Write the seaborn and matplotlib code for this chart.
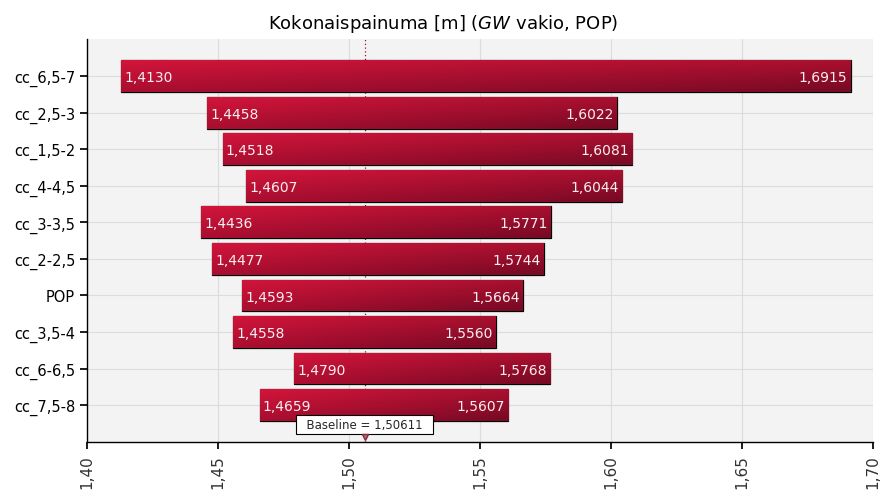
import numpy as np
import pandas as pd
import seaborn as sns
import matplotlib.pyplot as plt
from matplotlib.colors import to_rgb

sns.set_theme(style="ticks")
plt.rcParams['font.family'] = ['DejaVu Sans']

# Tornado data: low / high value of each scenario
categories = ["cc_6,5-7", "cc_2,5-3", "cc_1,5-2", "cc_4-4,5", "cc_3-3,5",
              "cc_2-2,5", "POP", "cc_3,5-4", "cc_6-6,5", "cc_7,5-8"]
low = [1.4130, 1.4458, 1.4518, 1.4607, 1.4436, 1.4477, 1.4593, 1.4558, 1.4790, 1.4659]
high = [1.6915, 1.6022, 1.6081, 1.6044, 1.5771, 1.5744, 1.5664, 1.5560, 1.5768, 1.5607]
baseline = 1.50611
xticks = [1.40, 1.45, 1.50, 1.55, 1.60, 1.65, 1.70]

df = pd.DataFrame({"case": categories, "low": low, "high": high})
df["span"] = df["high"] - df["low"]

fig = plt.figure(figsize=(8.86, 5.02), dpi=100)
ax = fig.add_axes([0.0982, 0.1175, 0.887, 0.8025])
ax.set_facecolor("#f3f3f3")

ypos = np.arange(len(df))
bars = ax.barh(ypos, df["span"], left=df["low"], height=0.87,
               color="#b0102f", edgecolor="black", linewidth=0.9, zorder=3)

# bilinear gradient: corners top-left, top-right, bottom-left, bottom-right
tl, tr = np.array(to_rgb("#d2153b")), np.array(to_rgb("#aa102f"))
bl, br = np.array(to_rgb("#a90e30")), np.array(to_rgb("#760a24"))
h = np.linspace(0, 1, 200)[None, :, None]
v = np.linspace(0, 1, 24)[:, None, None]
grad = (1 - v) * ((1 - h) * tl + h * tr) + v * ((1 - h) * bl + h * br)

for b, lo, hi, y in zip(bars, df["low"], df["high"], ypos):
    im = ax.imshow(grad, aspect="auto", zorder=3.5, interpolation="bilinear",
                   extent=[lo, hi, y + 0.435, y - 0.435])
    im.set_clip_path(b)
    ax.text(lo + 0.0012, y + 0.03, f"{lo:.4f}".replace(".", ","), color="#fbeef1",
            fontsize=10, va="center", ha="left", zorder=5)
    ax.text(hi - 0.0012, y + 0.03, f"{hi:.4f}".replace(".", ","), color="#fbeef1",
            fontsize=10, va="center", ha="right", zorder=5)

ax.axvline(baseline, color="#8b1a2b", linestyle=(0, (1, 2)), linewidth=0.9, zorder=2)
ax.text(baseline, 9.52, "  Baseline = 1,50611  ", fontsize=8.5,
        ha="center", va="center", zorder=6,
        bbox=dict(boxstyle="square,pad=0.25", fc="white", ec="black", lw=0.8))
ax.plot([baseline], [9.88], marker="v", color="#c06070", markersize=5,
        markeredgecolor="#80303a", zorder=6, clip_on=False)

ax.set_xlim(1.40, 1.70)
ax.set_ylim(len(df) - 1 + 1.01, -1.01)
ax.set_yticks(ypos)
ax.set_yticklabels(categories, fontsize=10.5, color="black")
ax.set_xticks(xticks)
ax.set_xticklabels([f"{v:.2f}".replace(".", ",") for v in xticks],
                   rotation=90, fontsize=11, color="#333333")
ax.grid(True, color="#dcdcdc", linewidth=0.8, zorder=0)
ax.set_axisbelow(True)
sns.despine(ax=ax)
for s in ("left", "bottom"):
    ax.spines[s].set_color("black")
    ax.spines[s].set_linewidth(1.0)
ax.tick_params(axis="both", length=5, color="black")

fig.suptitle("Kokonaispainuma [m] ($\\it{GW}$ vakio, POP)", y=0.975, fontsize=13,
             color="black")
fig.savefig("out.png", dpi=100)
